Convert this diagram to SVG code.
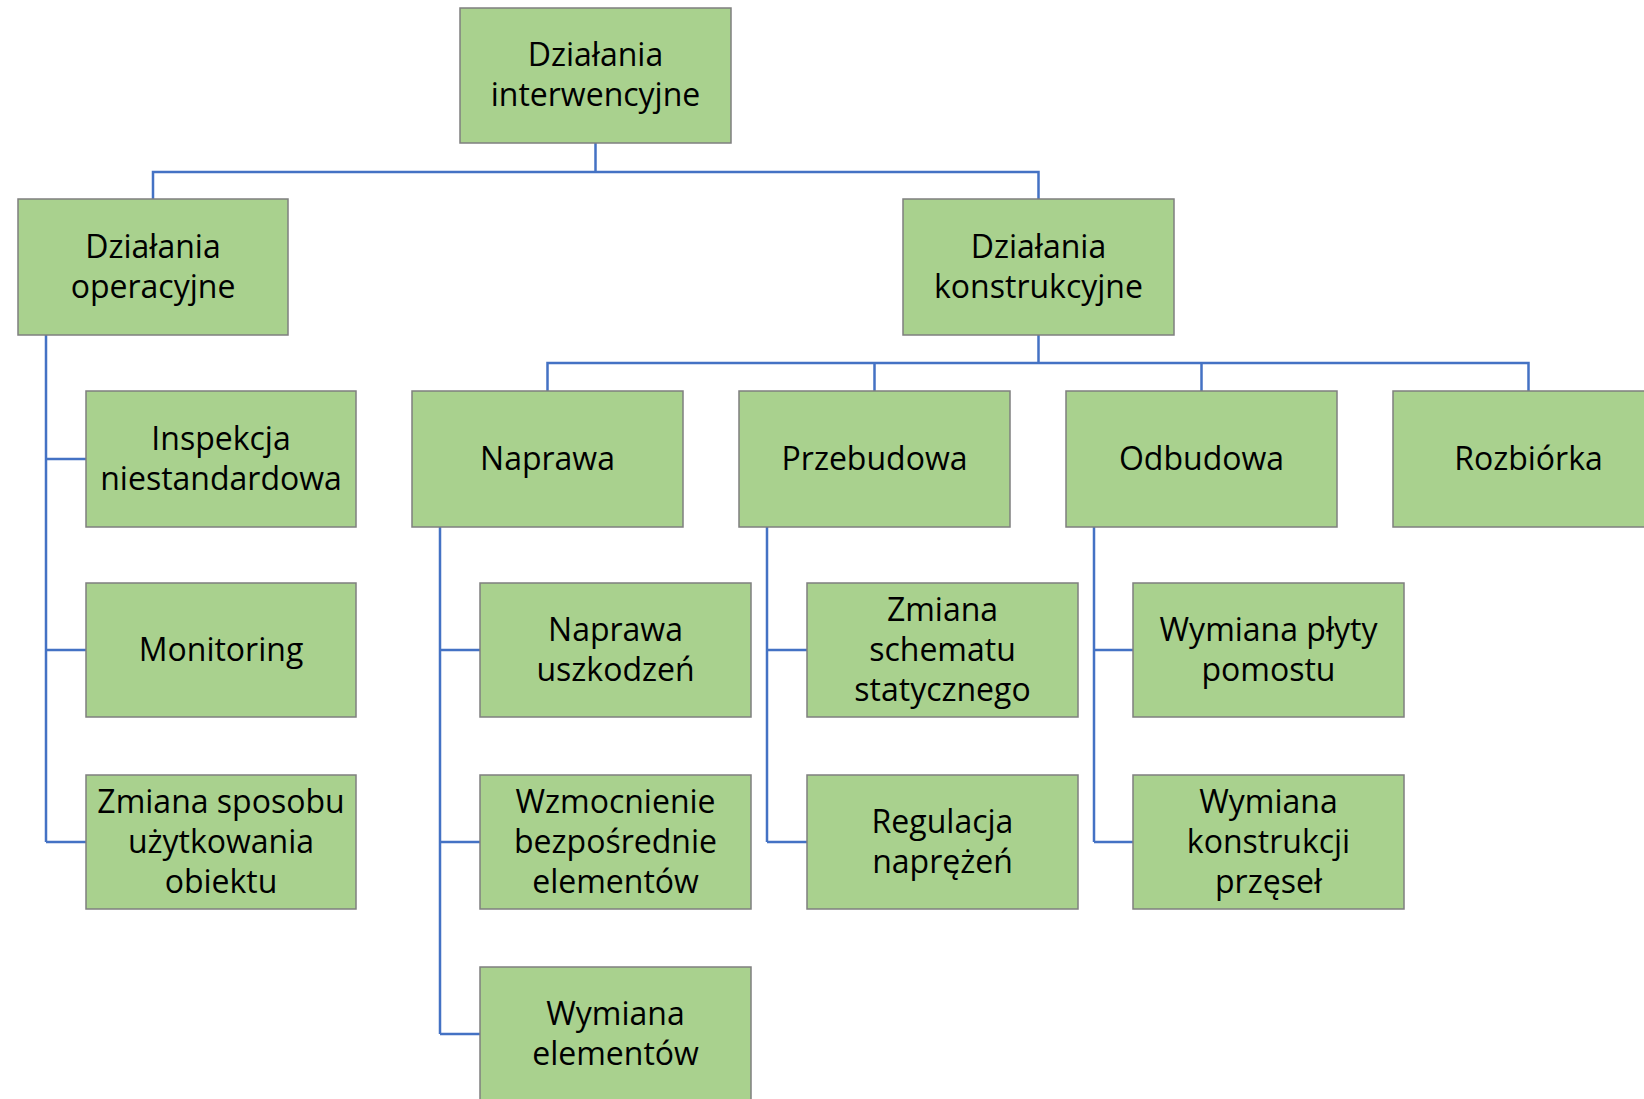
<svg xmlns="http://www.w3.org/2000/svg" width="1644" height="1099" viewBox="0 0 1644 1099">
<style>
.box{fill:#A9D18E;stroke:#7F7F7F;stroke-width:1.5}
.t{font-family:"Open Sans","Liberation Sans",sans-serif;font-size:32px;fill:#000;text-anchor:middle}
.c{fill:none;stroke:#4472C4;stroke-width:2.5}
</style>
<rect width="1644" height="1099" fill="#fff"/>
<g id="connectors">
<path class="c" d="M595.5,143V172M153,199V172H1038.5V199"/>
<path class="c" d="M46,335V842M46,459H86M46,650H86M46,842H86"/>
<path class="c" d="M1038.5,335V363M547.5,391V363H1528.5V391M874.5,363V391M1201.5,363V391"/>
<path class="c" d="M440,527V1034M440,650H480M440,842H480M440,1034H480"/>
<path class="c" d="M767,527V842M767,650H807M767,842H807"/>
<path class="c" d="M1094,527V842M1094,650H1133M1094,842H1133"/>
</g>
<g id="n_top"><rect class="box" x="460" y="8" width="271" height="135"/><text class="t" x="595.5" y="66">Działania</text><text class="t" x="595.5" y="106">interwencyjne</text></g>
<g id="n_oper"><rect class="box" x="18" y="199" width="270" height="136"/><text class="t" x="153" y="258">Działania</text><text class="t" x="153" y="298">operacyjne</text></g>
<g id="n_konstr"><rect class="box" x="903" y="199" width="271" height="136"/><text class="t" x="1038.5" y="258">Działania</text><text class="t" x="1038.5" y="298">konstrukcyjne</text></g>
<g id="n_inspekcja"><rect class="box" x="86" y="391" width="270" height="136"/><text class="t" x="221" y="450">Inspekcja</text><text class="t" x="221" y="490">niestandardowa</text></g>
<g id="n_naprawa"><rect class="box" x="412" y="391" width="271" height="136"/><text class="t" x="547.5" y="470">Naprawa</text></g>
<g id="n_przebudowa"><rect class="box" x="739" y="391" width="271" height="136"/><text class="t" x="874.5" y="470">Przebudowa</text></g>
<g id="n_odbudowa"><rect class="box" x="1066" y="391" width="271" height="136"/><text class="t" x="1201.5" y="470">Odbudowa</text></g>
<g id="n_rozbiorka"><rect class="box" x="1393" y="391" width="271" height="136"/><text class="t" x="1528.5" y="470">Rozbiórka</text></g>
<g id="n_monitoring"><rect class="box" x="86" y="583" width="270" height="134"/><text class="t" x="221" y="661">Monitoring</text></g>
<g id="n_zmiana_sposobu"><rect class="box" x="86" y="775" width="270" height="134"/><text class="t" x="221" y="813">Zmiana sposobu</text><text class="t" x="221" y="853">użytkowania</text><text class="t" x="221" y="893">obiektu</text></g>
<g id="n_naprawa_uszk"><rect class="box" x="480" y="583" width="271" height="134"/><text class="t" x="615.5" y="641">Naprawa</text><text class="t" x="615.5" y="681">uszkodzeń</text></g>
<g id="n_wzmocnienie"><rect class="box" x="480" y="775" width="271" height="134"/><text class="t" x="615.5" y="813">Wzmocnienie</text><text class="t" x="615.5" y="853">bezpośrednie</text><text class="t" x="615.5" y="893">elementów</text></g>
<g id="n_wymiana_el"><rect class="box" x="480" y="967" width="271" height="134"/><text class="t" x="615.5" y="1025">Wymiana</text><text class="t" x="615.5" y="1065">elementów</text></g>
<g id="n_zmiana_schematu"><rect class="box" x="807" y="583" width="271" height="134"/><text class="t" x="942.5" y="621">Zmiana</text><text class="t" x="942.5" y="661">schematu</text><text class="t" x="942.5" y="701">statycznego</text></g>
<g id="n_regulacja"><rect class="box" x="807" y="775" width="271" height="134"/><text class="t" x="942.5" y="833">Regulacja</text><text class="t" x="942.5" y="873">naprężeń</text></g>
<g id="n_wymiana_plyty"><rect class="box" x="1133" y="583" width="271" height="134"/><text class="t" x="1268.5" y="641">Wymiana płyty</text><text class="t" x="1268.5" y="681">pomostu</text></g>
<g id="n_wymiana_konstr"><rect class="box" x="1133" y="775" width="271" height="134"/><text class="t" x="1268.5" y="813">Wymiana</text><text class="t" x="1268.5" y="853">konstrukcji</text><text class="t" x="1268.5" y="893">przęseł</text></g>
</svg>
